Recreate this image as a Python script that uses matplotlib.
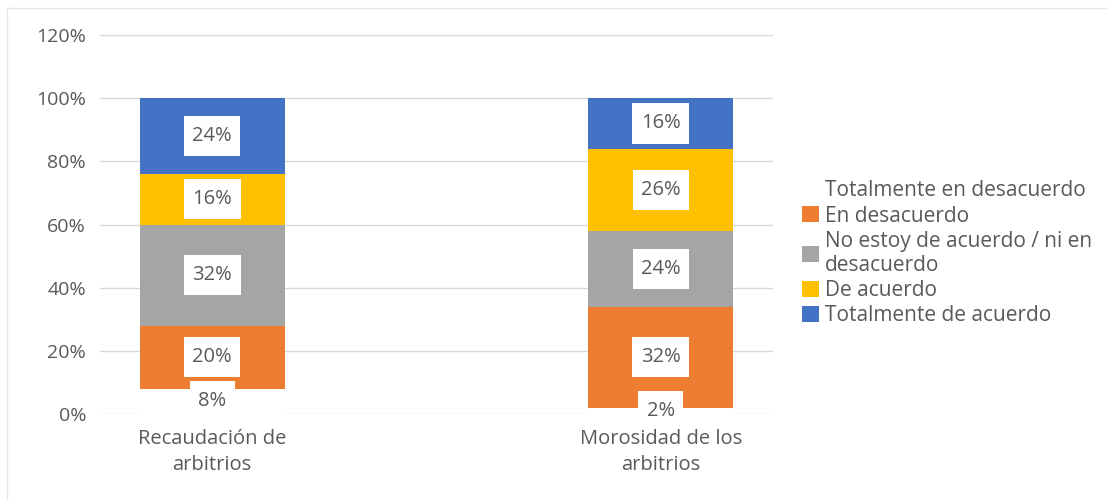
import numpy as np
import matplotlib.pyplot as plt
from matplotlib.lines import Line2D
from matplotlib.patches import Patch
from matplotlib.path import Path

categories = ["Recaudación de\narbitrios", "Morosidad de los\narbitrios"]
series_names = [
    "Totalmente en desacuerdo",
    "En desacuerdo",
    "No estoy de acuerdo / ni en\ndesacuerdo",
    "De acuerdo",
    "Totalmente de acuerdo",
]
values = [
    [0.08, 0.02],   # Totalmente en desacuerdo
    [0.20, 0.32],   # En desacuerdo
    [0.32, 0.24],   # No estoy de acuerdo / ni en desacuerdo
    [0.16, 0.26],   # De acuerdo
    [0.24, 0.16],   # Totalmente de acuerdo
]
colors = ["#FFFFFF", "#ED7D31", "#A5A5A5", "#FFC000", "#4472C4"]
yticks = [0, 0.2, 0.4, 0.6, 0.8, 1.0, 1.2]

plt.rcParams['font.family'] = ['Open Sans', 'DejaVu Sans']
text_color = "#595959"


def label_box(x0, y0, width, height, mutation_size):
    # white label box, taller padding than wide like Excel's data labels
    px, py = 0.42 * mutation_size, 0.5 * mutation_size
    verts = [(x0 - px, y0 - py), (x0 + width + px, y0 - py),
             (x0 + width + px, y0 + height + py), (x0 - px, y0 + height + py),
             (x0 - px, y0 - py)]
    codes = [Path.MOVETO] + [Path.LINETO] * 3 + [Path.CLOSEPOLY]
    return Path(verts, codes)


W, H = 1107, 500
fig = plt.figure(figsize=(W / 100, H / 100), dpi=100)
ax = fig.add_axes([100 / W, 86 / H, 673 / W, 379 / H])

# chart area border (only top and left edges show in the crop)
fig.add_artist(Line2D([7 / W, 1], [1 - 8 / H, 1 - 8 / H], color="#E6E6E6", lw=1))
fig.add_artist(Line2D([7 / W, 7 / W], [0, 1 - 8 / H], color="#E6E6E6", lw=1))

x = np.arange(len(categories))
bottom = np.zeros(len(categories))
width = 0.323
for name, vals, col in zip(series_names, values, colors):
    vals = np.array(vals)
    ax.bar(x, vals, width, bottom=bottom, color=col, label=name, zorder=2)
    for xi, b, v in zip(x, bottom, vals):
        ax.text(xi, b + v / 2, f"{v * 100:.0f}%", ha="center", va="center",
                fontsize=14.5, color=text_color, zorder=4,
                bbox=dict(boxstyle=label_box, fc="white", ec="none"))
    bottom += vals

ax.set_xlim(-0.25, 1.25)
ax.set_ylim(0, 1.2)
ax.set_yticks(yticks)
ax.set_yticklabels([f"{t * 100:.0f}%" for t in yticks])
ax.yaxis.grid(True, color="#D9D9D9", linewidth=1, zorder=0)
ax.set_axisbelow(True)
ax.set_xticks(x)
ax.set_xticklabels(categories, linespacing=1.35)
ax.tick_params(axis="both", length=0, labelsize=14, colors=text_color)
ax.tick_params(axis="x", labelsize=14.5, pad=11)
ax.tick_params(axis="y", pad=10)
ax.xaxis.set_zorder(5)
for s in ax.spines.values():
    s.set_visible(False)

handles = [Patch(facecolor=c, edgecolor="none") for c in colors]
leg = fig.legend(handles, series_names, loc="upper left",
                 bbox_to_anchor=(792 / W, 1 - 170 / H), frameon=False,
                 fontsize=15, handlelength=0.8, handleheight=0.8,
                 handletextpad=0.3, labelspacing=0.2, labelcolor=text_color,
                 borderpad=0)
for t in leg.get_texts():
    t.set_linespacing(1.2)

fig.savefig("out.png", dpi=100, facecolor="white")
